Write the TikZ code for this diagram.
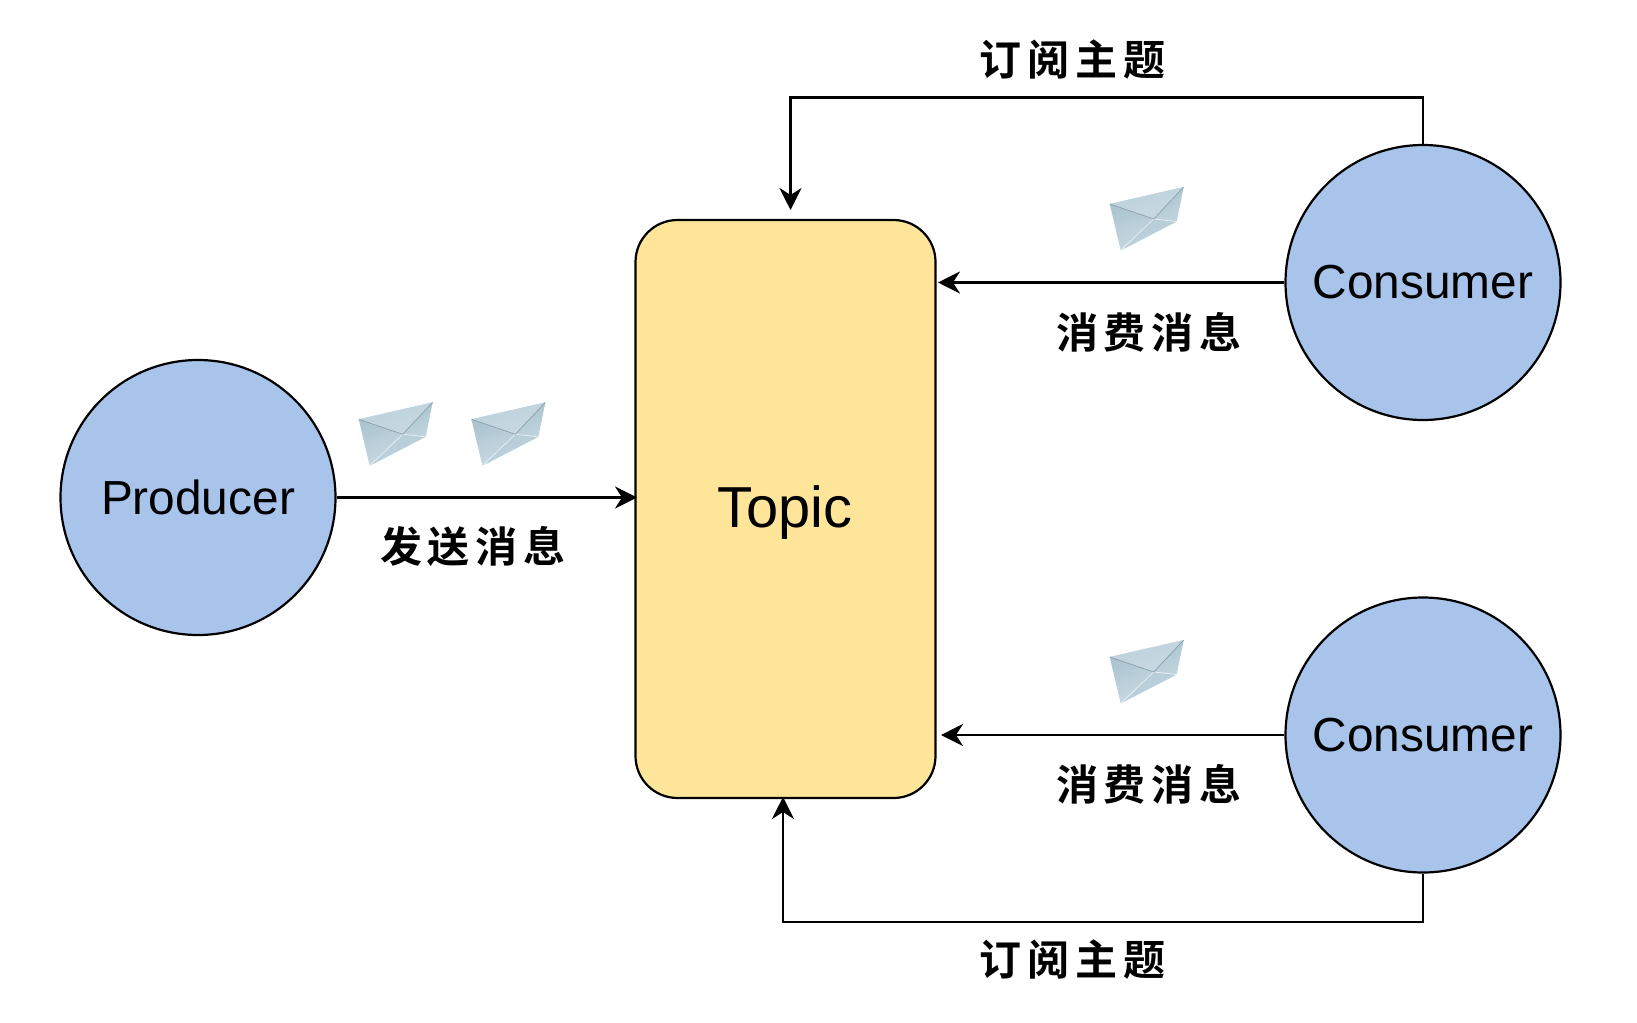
\documentclass[tikz,border=0pt]{standalone}
\usepackage{fontspec}
\setmainfont{Liberation Sans}
\newfontfamily\cjk[BoldFont={Noto Sans CJK SC Bold}]{Noto Sans CJK SC}
\usetikzlibrary{arrows.meta,shadings}
\definecolor{circ}{HTML}{A9C4EB}
\definecolor{topicfill}{HTML}{FFE599}
\definecolor{envA}{HTML}{B4CDD9}
\definecolor{envB}{HTML}{D0DFE7}
\definecolor{envC}{HTML}{A2BECB}
\tikzset{
  x=1pt,y=-1pt,
  actor/.style={circle,draw=black,line width=2.2pt,fill=circ,minimum size=275pt,inner sep=0pt,font=\fontsize{47.8}{50}\selectfont},
  topicbox/.style={draw=black,line width=2.2pt,fill=topicfill,rounded corners=42pt},
  link/.style={draw=black,line width=2.2pt,-{Stealth[length=22pt,width=22pt,inset=7pt]}},
  lab/.style={font=\cjk\bfseries\fontsize{42}{44}\selectfont,inner sep=0pt}
}
\newcommand{\envelope}[2]{%
  \begin{scope}[shift={(#1,#2)}]
    \begin{scope}
      \clip (0,17) -- (74,0) -- (67,34.5) -- (11,63.5) -- cycle;
      \shade[left color=envC,right color=envB,shading angle=20] (-2,-2) rectangle (76,66);
      \fill[envB,opacity=.6] (0,17) -- (74,0) -- (44,32) -- cycle;
      \fill[envA,opacity=.6] (44,32) -- (67,34.5) -- (11,63.5) -- cycle;
    \end{scope}
    \draw[white,opacity=.7,line width=.7pt] (11,63.5) -- (44,32) -- (67,34.5);
    \draw[envC!75!black,opacity=.75,line width=.7pt] (0,17) -- (44,32) -- (74,0);
  \end{scope}}
\begin{document}
\begin{tikzpicture}
\useasboundingbox (0,0) rectangle (1637,1022);
\node[minimum width=300pt,minimum height=578pt,inner sep=0pt,topicbox] (topic) at (785.5,509) {};
\node[inner sep=0pt,font=\fontsize{57.8}{60}\selectfont] (topictxt) at (785,513) {Topic};
\node[actor] (prod) at (198,497.5) {Producer};
\node[actor] (cons1) at (1423,282.5) {Consumer};
\node[actor] (cons2) at (1423,735) {Consumer};
\coordinate (t1) at (790.5,210);
\coordinate (t2) at (938,282.5);
\coordinate (t3) at (941,735);
\coordinate (t4) at (783,797);
\coordinate (tp) at (637,497.5);
\draw[link] (prod.east) -- (tp);
\draw[link] (cons1.west) -- (t2);
\draw[link] (cons2.west) -- (t3);
\draw[link] (cons1.north) |- (790.5,97.6) -- (t1);
\draw[link] (cons2.south) |- (783,922.3) -- (t4);
\envelope{358.7}{402.3}
\envelope{471.4}{402.3}
\envelope{1109.7}{187}
\envelope{1109.7}{640}
\node[lab] (l1) at (473,546.5) {发\hspace{6pt}送\hspace{6pt}消\hspace{6pt}息};
\node[lab] (l2) at (1149,332) {消\hspace{6pt}费\hspace{6pt}消\hspace{6pt}息};
\node[lab] (l3) at (1149,784) {消\hspace{6pt}费\hspace{6pt}消\hspace{6pt}息};
\node[lab] (l4) at (1072.5,59) {订\hspace{6pt}阅\hspace{6pt}主\hspace{6pt}题};
\node[lab] (l5) at (1072.5,959) {订\hspace{6pt}阅\hspace{6pt}主\hspace{6pt}题};
\end{tikzpicture}
\end{document}
